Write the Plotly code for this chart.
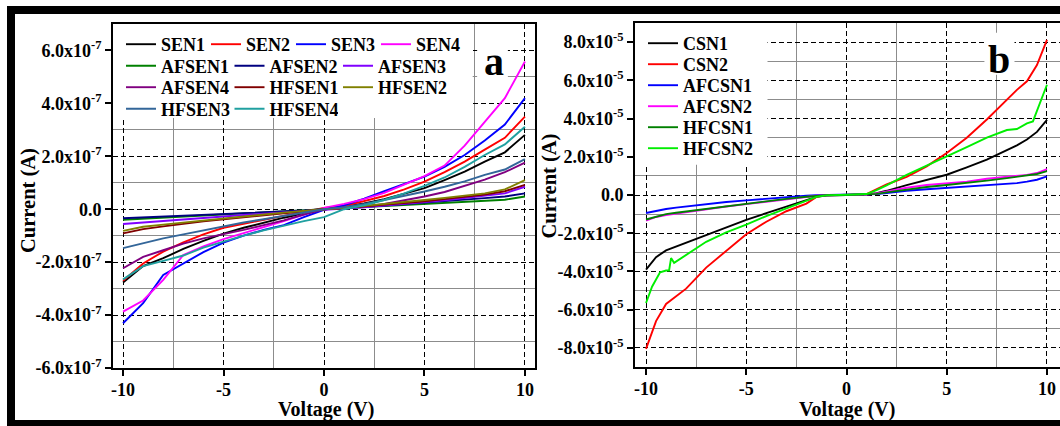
import plotly.graph_objects as go

W, H = 1060, 426

# ---------------- data: panel a (current in units of 1e-7 A) ----------------
VOLT_A = [-10, -9, -8, -7, -6, -5, -4, -3, -2, -1, 0, 1, 2, 3, 4, 5, 6, 7, 8, 9, 10]
SEN1 = [-2.77, -2.15, -1.85, -1.5, -1.2, -0.92, -0.7, -0.5, -0.32, -0.15, 0.02, 0.1, 0.22, 0.38, 0.58, 0.8, 1.1, 1.42, 1.8, 2.15, 2.81]
SEN2 = [-2.7, -2.05, -1.6, -1.25, -0.95, -0.7, -0.55, -0.4, -0.25, -0.1, 0.05, 0.12, 0.3, 0.5, 0.75, 1.04, 1.4, 1.8, 2.25, 2.7, 3.5]
SEN3 = [-4.31, -3.55, -2.48, -2.05, -1.62, -1.26, -1.0, -0.78, -0.6, -0.3, -0.02, 0.15, 0.4, 0.68, 0.95, 1.23, 1.6, 2.05, 2.6, 3.2, 4.2]
SEN4 = [-3.87, -3.45, -2.67, -1.73, -1.4, -1.13, -0.9, -0.68, -0.45, -0.2, 0.05, 0.2, 0.38, 0.62, 0.92, 1.25, 1.65, 2.4, 3.3, 4.2, 5.58]
AFSEN1 = [-0.4, -0.36, -0.32, -0.28, -0.25, -0.21, -0.17, -0.13, -0.09, -0.05, 0, 0.03, 0.07, 0.1, 0.14, 0.18, 0.22, 0.27, 0.31, 0.36, 0.48]
AFSEN2 = [-0.34, -0.31, -0.28, -0.25, -0.22, -0.19, -0.16, -0.13, -0.09, -0.05, 0, 0.04, 0.09, 0.14, 0.2, 0.25, 0.3, 0.36, 0.42, 0.48, 0.6]
AFSEN3 = [-0.56, -0.5, -0.44, -0.39, -0.33, -0.28, -0.22, -0.17, -0.12, -0.06, 0, 0.03, 0.07, 0.13, 0.2, 0.27, 0.34, 0.42, 0.5, 0.6, 0.85]
AFSEN4 = [-2.23, -1.8, -1.55, -1.3, -1.1, -0.95, -0.78, -0.6, -0.42, -0.2, 0, 0.04, 0.1, 0.2, 0.33, 0.48, 0.65, 0.88, 1.12, 1.4, 1.76]
HFSEN1 = [-0.91, -0.75, -0.65, -0.55, -0.46, -0.38, -0.3, -0.22, -0.15, -0.07, 0, 0.04, 0.1, 0.16, 0.23, 0.3, 0.38, 0.46, 0.55, 0.68, 0.92]
HFSEN2 = [-0.82, -0.66, -0.58, -0.5, -0.42, -0.35, -0.27, -0.2, -0.13, -0.06, 0, 0.05, 0.12, 0.2, 0.28, 0.35, 0.43, 0.52, 0.6, 0.75, 1.1]
HFSEN3 = [-1.47, -1.28, -1.1, -0.95, -0.8, -0.65, -0.5, -0.38, -0.25, -0.12, 0, 0.08, 0.2, 0.35, 0.5, 0.67, 0.85, 1.05, 1.3, 1.5, 1.89]
HFSEN4 = [-2.65, -2.15, -1.95, -1.75, -1.45, -1.22, -1.0, -0.8, -0.62, -0.45, -0.3, 0.0, 0.15, 0.35, 0.6, 0.88, 1.2, 1.6, 2.05, 2.45, 3.12]
SCALE_A = 1e-7

# ---------------- data: panel b (current in units of 1e-5 A) ----------------
VOLT_B = [-10, -9.5, -9, -8.5, -8, -7, -6, -5, -4, -3, -2, -1.5, -1, 0, 1, 1.5, 2, 3, 4, 5, 6, 7, 8, 8.5, 9, 9.5, 10]
CSN1 = [-3.9, -3.25, -2.9, -2.7, -2.5, -2.1, -1.7, -1.3, -0.95, -0.6, -0.28, -0.1, -0.03, 0, 0.03, 0.1, 0.22, 0.52, 0.8, 1.06, 1.45, 1.85, 2.35, 2.6, 2.9, 3.3, 3.93]
CSN2 = [-8.05, -6.6, -5.7, -5.3, -4.9, -3.8, -2.95, -2.05, -1.4, -0.85, -0.45, -0.1, 0, 0, 0.05, 0.3, 0.55, 0.95, 1.5, 2.2, 3.0, 3.95, 5.0, 5.5, 5.95, 6.8, 8.12]
AFCSN1 = [-0.94, -0.82, -0.73, -0.66, -0.6, -0.47, -0.37, -0.28, -0.19, -0.11, -0.04, -0.01, 0, 0, 0.02, 0.05, 0.1, 0.22, 0.3, 0.37, 0.44, 0.5, 0.58, 0.62, 0.7, 0.8, 0.97]
AFCSN2 = [-1.34, -1.15, -1.05, -0.97, -0.9, -0.75, -0.6, -0.48, -0.35, -0.22, -0.1, -0.04, -0.01, 0, 0.03, 0.08, 0.18, 0.38, 0.52, 0.6, 0.7, 0.85, 0.95, 1.0, 1.05, 1.15, 1.35]
HFCSN1 = [-1.28, -1.12, -1.0, -0.93, -0.86, -0.72, -0.58, -0.45, -0.33, -0.2, -0.09, -0.04, -0.01, 0, 0.02, 0.06, 0.14, 0.3, 0.42, 0.52, 0.62, 0.75, 0.88, 0.95, 1.02, 1.1, 1.25]
VOLT_HF2 = [-10, -9.7, -9.3, -9.0, -8.85, -8.75, -8.6, -8, -7, -6, -5, -4, -3, -2, -1.5, -1, 0, 1, 1.5, 2, 3, 4, 5, 6, 7, 8, 8.5, 9, 9.3, 9.5, 10]
HFCSN2 = [-5.65, -4.8, -4.05, -3.95, -3.95, -3.3, -3.55, -3.15, -2.45, -1.95, -1.55, -1.1, -0.7, -0.3, -0.1, -0.02, 0, 0.05, 0.25, 0.5, 1.05, 1.55, 2.02, 2.5, 3.0, 3.4, 3.45, 3.75, 3.85, 4.4, 5.77]
SCALE_B = 1e-5

# tick labels
XTICKS = [-10, -5, 0, 5, 10]
XTICKTEXT = ["<b>-10</b>", "<b>-5</b>", "<b>0</b>", "<b>5</b>", "<b>10</b>"]
YTICKS_A = [-6, -4, -2, 0, 2, 4, 6]
YTICKTEXT_A = ["<b>-6.0x10<sup>-7</sup></b>", "<b>-4.0x10<sup>-7</sup></b>", "<b>-2.0x10<sup>-7</sup></b>", "<b>0.0</b>",
               "<b>2.0x10<sup>-7</sup></b>", "<b>4.0x10<sup>-7</sup></b>", "<b>6.0x10<sup>-7</sup></b>"]
YTICKS_B = [-8, -6, -4, -2, 0, 2, 4, 6, 8]
YTICKTEXT_B = ["<b>-8.0x10<sup>-5</sup></b>", "<b>-6.0x10<sup>-5</sup></b>", "<b>-4.0x10<sup>-5</sup></b>",
               "<b>-2.0x10<sup>-5</sup></b>", "<b>0.0</b>", "<b>2.0x10<sup>-5</sup></b>", "<b>4.0x10<sup>-5</sup></b>",
               "<b>6.0x10<sup>-5</sup></b>", "<b>8.0x10<sup>-5</sup></b>"]
X_TITLE = "Voltage (V)"
Y_TITLE = "Current (A)"

SERIES_A = [
    ("SEN1", SEN1, "#000000", "legend"),
    ("SEN2", SEN2, "#ff0000", "legend"),
    ("SEN3", SEN3, "#0000ff", "legend"),
    ("SEN4", SEN4, "#ff00ff", "legend"),
    ("AFSEN1", AFSEN1, "#008000", "legend2"),
    ("AFSEN2", AFSEN2, "#000080", "legend2"),
    ("AFSEN3", AFSEN3, "#8000ff", "legend2"),
    ("AFSEN4", AFSEN4, "#800080", "legend3"),
    ("HFSEN1", HFSEN1, "#800000", "legend3"),
    ("HFSEN2", HFSEN2, "#808000", "legend3"),
    ("HFSEN3", HFSEN3, "#336699", "legend4"),
    ("HFSEN4", HFSEN4, "#20a0a0", "legend4"),
]
SERIES_B = [
    ("CSN1", VOLT_B, CSN1, "#000000", "legend5"),
    ("CSN2", VOLT_B, CSN2, "#ff0000", "legend6"),
    ("AFCSN1", VOLT_B, AFCSN1, "#0000ff", "legend7"),
    ("AFCSN2", VOLT_B, AFCSN2, "#ff00ff", "legend8"),
    ("HFCSN1", VOLT_B, HFCSN1, "#008000", "legend9"),
    ("HFCSN2", VOLT_HF2, HFCSN2, "#00ee00", "legend10"),
]

FONT = "Liberation Serif"

fig = go.Figure()
for name, vals, col, lg in SERIES_A:
    fig.add_trace(go.Scatter(x=VOLT_A, y=[v * SCALE_A for v in vals], mode="lines", name="<b>%s</b>" % name,
                             line=dict(color=col, width=1.9), legend=lg, xaxis="x", yaxis="y"))
for name, xs, vals, col, lg in SERIES_B:
    fig.add_trace(go.Scatter(x=xs, y=[v * SCALE_B for v in vals], mode="lines", name="<b>%s</b>" % name,
                             line=dict(color=col, width=1.9), legend=lg, xaxis="x2", yaxis="y2"))

def px_x(p):
    return p / W

def px_y(p):
    return 1 - p / H

tickfont = dict(family=FONT, size=18, color="black")
common_axis = dict(showline=True, linecolor="black", linewidth=1.8, ticks="outside", ticklen=6,
                   tickwidth=1.5, tickcolor="black", showgrid=True, gridcolor="black", gridwidth=1.3,
                   griddash="5px,3px", zeroline=False, tickfont=tickfont, automargin=False)
minor_grid = dict(showgrid=True, gridcolor="#8c8c8c", gridwidth=1, griddash="solid", ticks="")

fig.update_layout(
    template="none",
    width=W, height=H, margin=dict(l=0, r=0, t=0, b=0, pad=0, autoexpand=False),
    paper_bgcolor="white", plot_bgcolor="white",
    xaxis=dict(domain=[px_x(113), px_x(535)], range=[-10.5, 10.5], tickvals=XTICKS, ticktext=XTICKTEXT,
               mirror=True, anchor="y", ticklabelstandoff=-2,
               minor=dict(tickvals=[-7.5, -2.5, 2.5, 7.5], **minor_grid),
               **common_axis),
    yaxis=dict(domain=[px_y(368), px_y(24)], range=[-6e-7, 7.0e-7],
               tickvals=[v * SCALE_A for v in YTICKS_A], ticktext=YTICKTEXT_A, mirror=True, anchor="x",
               minor=dict(tickvals=[v * SCALE_A for v in [-5, -3, -1, 1, 3, 5]], **minor_grid),
               **common_axis),
    xaxis2=dict(domain=[px_x(635), 1.0], range=[-10.55, 10.65], tickvals=XTICKS, ticktext=XTICKTEXT,
                mirror=True, anchor="y2", ticklabelstandoff=-2,
                minor=dict(tickvals=[-7.5, -2.5, 2.5, 7.5], **minor_grid),
                **common_axis),
    yaxis2=dict(domain=[px_y(367), px_y(23)], range=[-9e-5, 9e-5],
                tickvals=[v * SCALE_B for v in YTICKS_B], ticktext=YTICKTEXT_B, mirror=False, anchor="x2",
                minor=dict(tickvals=[v * SCALE_B for v in [-7, -5, -3, -1, 1, 3, 5, 7]], **minor_grid),
                **common_axis),
)

legfont = dict(family=FONT, size=18, color="black")
def leg(xp, yp, ew):
    return dict(x=px_x(xp), y=px_y(yp), xanchor="left", yanchor="top", orientation="h",
                entrywidth=ew, entrywidthmode="pixels", bgcolor="rgba(0,0,0,0)", font=legfont,
                borderwidth=0)

ROW_A = [31, 52.5, 74, 95.5]
fig.update_layout(
    legend=leg(121, ROW_A[0] - 5, 40),
    legend2=leg(121, ROW_A[1] - 5, 63.5),
    legend3=leg(121, ROW_A[2] - 5, 63.5),
    legend4=leg(121, ROW_A[3] - 5, 63.5),
)
ROW_B = [30, 51, 72, 93, 114, 135]
for i, yb in enumerate(ROW_B):
    fig.update_layout({"legend%d" % (i + 5): leg(643, yb - 5, 0)})

# white boxes behind legends / panel letters (hide grid)
white = dict(type="rect", fillcolor="white", line=dict(width=0), layer="between")
fig.add_shape(xref="x", yref="y", x0=-10.5, x1=7.4, y0=3.45e-7, y1=7.0e-7, **white)
fig.add_shape(xref="x", yref="y", x0=7.62, x1=9.15, y0=4.43e-7, y1=6.66e-7, **white)
fig.add_shape(xref="x2", yref="y2", x0=-10.55, x1=-3.94, y0=1.58e-5, y1=9e-5, **white)
fig.add_shape(xref="x2", yref="y2", x0=6.88, x1=8.38, y0=6.29e-5, y1=8.49e-5, **white)

# axis titles
tfont = dict(family=FONT, size=20, color="black")
for xc, yc in [(326, 409), (847, 409)]:
    fig.add_annotation(xref="paper", yref="paper", x=px_x(xc), y=px_y(yc), text="<b>%s</b>" % X_TITLE,
                       showarrow=False, xanchor="center", yanchor="middle", font=tfont)
for xc, yc in [(28, 201), (549, 186.5)]:
    fig.add_annotation(xref="paper", yref="paper", x=px_x(xc), y=px_y(yc), text="<b>%s</b>" % Y_TITLE,
                       showarrow=False, xanchor="center", yanchor="middle", textangle=-90,
                       font=dict(family=FONT, size=20.5, color="black"))

# panel letters
fig.add_annotation(xref="paper", yref="paper", x=px_x(494), y=px_y(62), text="<b>a</b>", showarrow=False,
                   xanchor="center", yanchor="middle", font=dict(family=FONT, size=40, color="black"))
fig.add_annotation(xref="paper", yref="paper", x=px_x(999), y=px_y(59.5), text="<b>b</b>", showarrow=False,
                   xanchor="center", yanchor="middle", font=dict(family=FONT, size=40, color="black"))

# black frame
frame = dict(type="rect", xref="paper", yref="paper", fillcolor="black", line=dict(width=0), layer="above")
fig.add_shape(x0=px_x(7), x1=1, y0=px_y(14), y1=px_y(6), **frame)
fig.add_shape(x0=px_x(7), x1=px_x(15), y0=0, y1=px_y(6), **frame)
fig.add_shape(x0=px_x(7), x1=1, y0=0, y1=6 / H, **frame)

fig.write_html("out.html")
